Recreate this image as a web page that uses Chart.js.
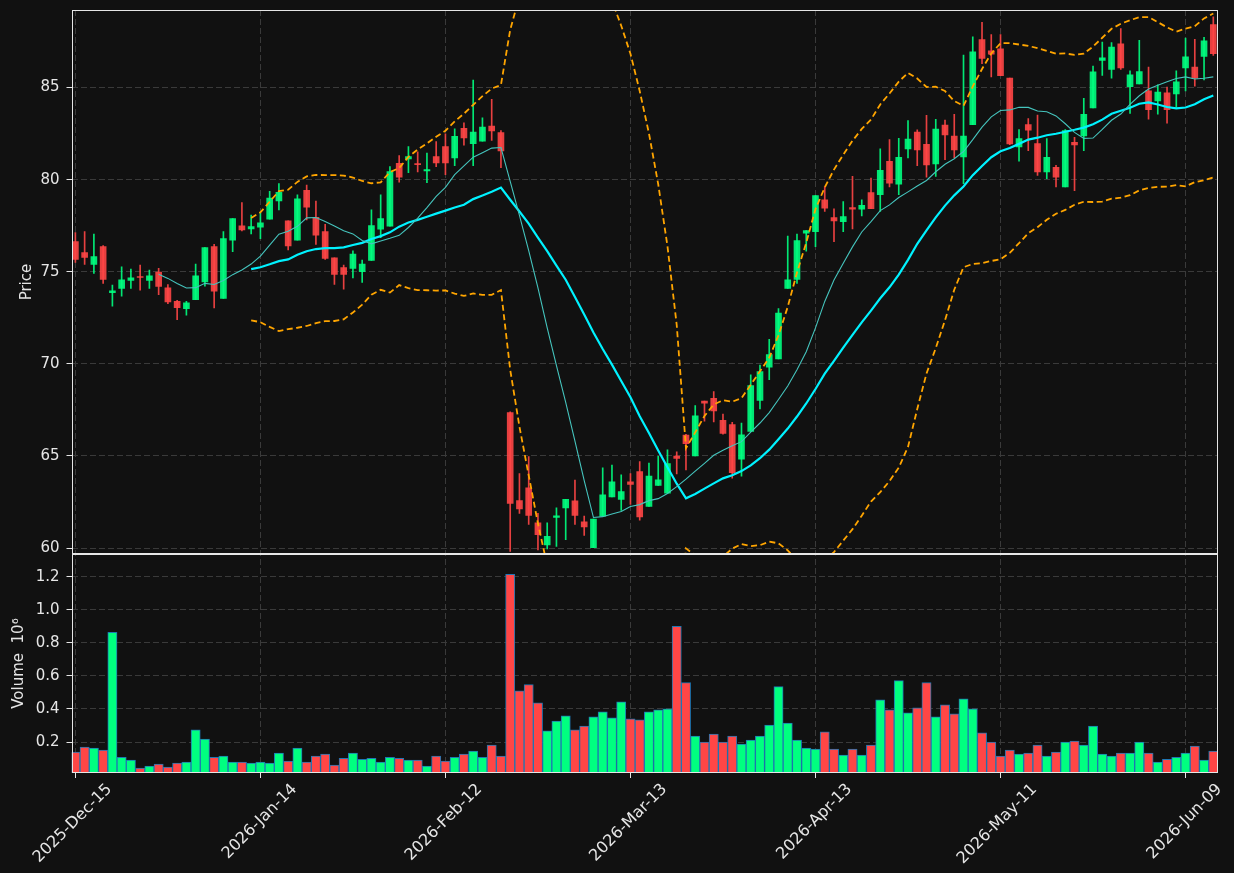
<!DOCTYPE html>
<html>
<head>
<meta charset="utf-8">
<script src="https://cdn.jsdelivr.net/npm/chart.js@4.4.1/dist/chart.umd.min.js"></script>
<style>
  html, body { margin: 0; padding: 0; background: #111111; }
  #wrap { position: relative; width: 1234px; height: 873px; }
</style>
</head>
<body>
<div id="wrap"><canvas id="candles" width="1234" height="873"></canvas></div>
<script>
// Daily OHLC, one entry per trading day (2025-12-15 .. 2026-06-12)
const opens = [
  76.64, 76.04, 75.40, 76.36, 73.87, 74.09, 74.53, 74.74, 74.53, 74.98,
  74.13, 73.40, 73.00, 73.49, 74.45, 76.36, 73.55, 76.71, 77.49, 77.33,
  77.42, 77.85, 78.84, 77.76, 76.71, 79.42, 77.96, 77.18, 75.76, 75.22,
  75.18, 75.00, 75.62, 77.31, 77.47, 80.89, 81.13, 80.84, 80.47, 81.25,
  81.80, 81.18, 82.78, 81.95, 82.09, 82.91, 82.56, 67.36, 62.58, 63.27,
  61.37, 60.17, 61.66, 62.18, 62.57, 61.42, 60.02, 61.73, 62.77, 62.64,
  63.60, 64.15, 62.26, 63.40, 62.98, 65.00, 66.13, 65.00, 67.98, 68.13,
  66.93, 66.71, 64.82, 66.33, 68.02, 69.82, 70.27, 74.09, 74.58, 77.09,
  77.18, 78.90, 77.94, 77.72, 78.49, 78.40, 79.30, 79.18, 80.99, 79.76,
  81.67, 82.58, 81.92, 80.85, 82.96, 82.36, 81.23, 82.98, 87.60, 86.99,
  87.10, 85.52, 81.78, 82.99, 81.96, 80.42, 80.67, 79.60, 82.02, 82.37,
  83.90, 86.47, 85.98, 87.38, 85.05, 85.20, 84.82, 84.27, 84.71, 84.66,
  86.07, 86.11, 86.69, 88.42
];
const highs = [
  77.13, 77.18, 77.05, 76.42, 74.27, 75.27, 75.15, 75.36, 75.09, 75.18,
  74.31, 73.45, 73.40, 75.42, 76.31, 76.49, 77.18, 77.89, 78.76, 78.07,
  78.20, 79.36, 79.78, 77.76, 79.18, 79.71, 78.84, 77.58, 75.76, 75.36,
  76.13, 75.64, 78.36, 79.18, 80.71, 81.31, 81.80, 81.51, 81.44, 82.07,
  82.49, 82.76, 83.09, 85.40, 83.35, 84.36, 82.67, 67.40, 64.04, 64.97,
  61.88, 61.37, 62.18, 62.64, 63.69, 61.73, 61.58, 64.35, 64.51, 63.97,
  64.04, 64.69, 64.62, 64.98, 65.33, 65.22, 66.18, 67.73, 67.98, 68.49,
  67.27, 66.82, 66.78, 69.40, 69.94, 71.33, 73.00, 76.94, 77.05, 77.23,
  79.14, 79.63, 78.41, 78.81, 80.18, 78.90, 80.09, 81.68, 82.18, 82.25,
  83.21, 82.70, 83.49, 83.27, 83.23, 83.54, 86.76, 87.76, 88.54, 87.87,
  87.87, 85.52, 82.72, 83.32, 83.50, 82.23, 80.78, 82.72, 82.30, 84.41,
  86.17, 87.47, 87.44, 88.20, 85.91, 87.56, 86.11, 85.15, 85.02, 85.91,
  87.69, 87.62, 87.73, 88.84
];
const lows = [
  75.51, 75.40, 74.91, 74.36, 73.13, 73.67, 74.09, 74.00, 74.09, 73.75,
  73.27, 72.40, 72.64, 73.49, 74.22, 73.04, 73.55, 76.09, 77.22, 77.05,
  76.80, 77.85, 78.36, 76.18, 76.71, 77.82, 76.49, 75.67, 74.31, 74.05,
  74.67, 74.42, 75.62, 76.85, 77.47, 79.87, 80.38, 80.42, 79.84, 80.71,
  80.27, 80.76, 81.87, 80.76, 82.09, 82.13, 80.65, 59.82, 61.88, 61.28,
  59.90, 59.95, 60.09, 60.46, 61.28, 60.68, 60.02, 61.73, 62.77, 62.04,
  62.37, 61.51, 62.26, 63.40, 62.98, 64.02, 64.24, 65.00, 66.89, 66.85,
  66.18, 63.80, 63.90, 66.33, 67.55, 69.14, 70.27, 74.09, 74.36, 76.12,
  76.36, 78.27, 76.63, 77.18, 77.32, 78.03, 78.43, 78.27, 79.60, 79.18,
  81.18, 80.76, 80.14, 80.18, 81.09, 81.18, 79.78, 82.98, 86.30, 85.58,
  85.65, 81.90, 81.00, 81.58, 80.23, 80.05, 79.60, 79.60, 79.40, 81.58,
  83.90, 85.66, 85.51, 85.98, 83.60, 85.20, 83.29, 83.55, 83.06, 83.93,
  84.82, 85.07, 85.42, 86.75
];
const closes = [
  75.67, 75.78, 75.82, 74.58, 73.96, 74.56, 74.67, 74.69, 74.78, 74.20,
  73.36, 73.05, 73.31, 74.78, 76.31, 73.95, 76.80, 77.89, 77.27, 77.45,
  77.65, 79.00, 79.31, 76.40, 78.96, 78.51, 76.98, 75.73, 74.85, 74.85,
  75.96, 75.42, 77.51, 77.89, 80.44, 80.13, 81.25, 80.82, 80.55, 80.91,
  80.91, 82.35, 82.27, 82.58, 82.85, 82.65, 81.56, 62.42, 62.13, 61.77,
  60.73, 60.64, 61.75, 62.64, 61.77, 61.15, 61.58, 62.89, 63.60, 63.06,
  63.46, 61.69, 63.91, 63.71, 64.58, 64.87, 65.67, 67.18, 67.87, 67.44,
  66.22, 64.09, 66.15, 68.82, 69.58, 70.51, 72.76, 74.56, 76.69, 77.23,
  79.14, 78.45, 77.76, 77.99, 78.40, 78.60, 78.43, 80.50, 79.81, 81.21,
  82.20, 81.61, 80.80, 82.74, 82.43, 81.61, 82.36, 86.94, 86.58, 86.81,
  85.65, 81.94, 82.23, 82.69, 80.42, 81.21, 80.14, 82.67, 81.89, 83.55,
  85.85, 86.62, 87.20, 86.07, 85.69, 85.87, 83.80, 84.75, 83.80, 85.31,
  86.67, 85.51, 87.54, 86.84
];
// Volume in millions
const volumes = [
  0.139, 0.169, 0.163, 0.151, 0.863, 0.108, 0.090, 0.042, 0.054, 0.066,
  0.048, 0.072, 0.078, 0.273, 0.218, 0.108, 0.115, 0.078, 0.078, 0.072,
  0.078, 0.072, 0.133, 0.084, 0.163, 0.078, 0.115, 0.127, 0.060, 0.102,
  0.133, 0.096, 0.102, 0.078, 0.108, 0.102, 0.090, 0.090, 0.054, 0.115,
  0.084, 0.108, 0.127, 0.145, 0.108, 0.182, 0.115, 1.215, 0.510, 0.547,
  0.437, 0.267, 0.327, 0.358, 0.273, 0.297, 0.352, 0.382, 0.346, 0.443,
  0.340, 0.334, 0.382, 0.395, 0.401, 0.900, 0.559, 0.236, 0.200, 0.248,
  0.200, 0.236, 0.188, 0.212, 0.236, 0.303, 0.535, 0.315, 0.212, 0.163,
  0.157, 0.261, 0.157, 0.121, 0.157, 0.121, 0.182, 0.455, 0.395, 0.571,
  0.376, 0.407, 0.559, 0.352, 0.425, 0.370, 0.461, 0.401, 0.255, 0.200,
  0.115, 0.151, 0.127, 0.133, 0.182, 0.115, 0.139, 0.200, 0.206, 0.182,
  0.297, 0.127, 0.115, 0.133, 0.133, 0.200, 0.133, 0.078, 0.096, 0.108,
  0.133, 0.176, 0.090, 0.145
];
// one date label every 20 sessions
const tickLabels = ['2025-Dec-15', '2026-Jan-14', '2026-Feb-12', '2026-Mar-13',
                    '2026-Apr-13', '2026-May-11', '2026-Jun-09'];
const priceTicks = [60, 65, 70, 75, 80, 85];
const volumeTicks = [0.2, 0.4, 0.6, 0.8, 1.0, 1.2];

const TICK_STEP = 20;
const FONT = 'DejaVu Sans';
const FG = '#e6e6e6';
const GRID = '#3a3a3a';
const UP = '#00ff80';
const DOWN = '#ff4646';

// rolling mean / bollinger bands on closes
function sma(values, period) {
  return values.map((_, i) => {
    if (i < period - 1) return null;
    let s = 0;
    for (let k = i - period + 1; k <= i; k++) s += values[k];
    return s / period;
  });
}
function band(values, period, mult) {
  const mid = sma(values, period);
  return values.map((_, i) => {
    if (mid[i] === null) return null;
    let v = 0;
    for (let k = i - period + 1; k <= i; k++) v += (values[k] - mid[i]) ** 2;
    return mid[i] + mult * Math.sqrt(v / period);
  });
}
const toPoints = arr => arr.map((y, i) => ({ x: i, y })).filter(p => p.y !== null);

const up = closes.map((c, i) => c >= opens[i]);
const candleCol = up.map(u => u ? 'rgba(0,255,128,0.9)' : 'rgba(255,70,70,0.9)');
const volCol = up.map(u => u ? UP : DOWN);

// keep each dataset inside its own panel
const panelClip = {
  id: 'panelClip',
  beforeDatasetDraw(chart, args) {
    const ys = chart.scales[args.meta.yAxisID];
    const a = chart.chartArea;
    chart.ctx.save();
    chart.ctx.beginPath();
    chart.ctx.rect(a.left, ys.top, a.right - a.left, ys.bottom - ys.top);
    chart.ctx.clip();
  },
  afterDatasetDraw(chart) {
    chart.ctx.restore();
  }
};

const panelFrames = {
  id: 'panelFrames',
  afterDraw(chart) {
    const { ctx, chartArea: a } = chart;
    ctx.save();
    ctx.strokeStyle = FG;
    ctx.lineWidth = 1;
    ['y', 'volume'].forEach(id => {
      const s = chart.scales[id];
      ctx.strokeRect(Math.round(a.left) + 0.5, Math.round(s.top) + 0.5,
                     Math.round(a.right - a.left) - 1, Math.round(s.bottom - s.top) - 1);
    });
    ctx.restore();
  }
};

const gridOpts = { color: GRID, tickColor: FG, tickLength: 5, tickWidth: 1, tickBorderDash: [], offset: false };
const noPad = s => { s.paddingTop = 0; s.paddingBottom = 0; };

new Chart(document.getElementById('candles'), {
  type: 'bar',
  data: {
    datasets: [
      {
        type: 'line', label: 'MA10', data: toPoints(sma(closes, 10)),
        borderColor: '#45c4bd', borderWidth: 1.1, pointRadius: 0, yAxisID: 'y', order: 0
      },
      {
        type: 'line', label: 'MA20', data: toPoints(sma(closes, 20)),
        borderColor: '#00f2ff', borderWidth: 2.2, pointRadius: 0, yAxisID: 'y', order: 0
      },
      {
        type: 'line', label: 'Upper', data: toPoints(band(closes, 20, 2)),
        borderColor: '#ffa500', borderWidth: 1.8, borderDash: [6, 3.5], pointRadius: 0, yAxisID: 'y', order: 0
      },
      {
        type: 'line', label: 'Lower', data: toPoints(band(closes, 20, -2)),
        borderColor: '#ffa500', borderWidth: 1.8, borderDash: [6, 3.5], pointRadius: 0, yAxisID: 'y', order: 0
      },
      {
        label: 'Body', data: closes.map((c, i) => ({ x: i, y: [opens[i], c] })),
        backgroundColor: candleCol, barThickness: 6, minBarLength: 1, grouped: false,
        yAxisID: 'y', order: 1
      },
      {
        label: 'Wick', data: closes.map((_, i) => ({ x: i, y: [lows[i], highs[i]] })),
        backgroundColor: candleCol, barThickness: 1, grouped: false,
        yAxisID: 'y', order: 2
      },
      {
        label: 'Volume', data: volumes.map((v, i) => ({ x: i, y: v })),
        backgroundColor: volCol, borderColor: '#1f77b4', borderWidth: 1,
        barThickness: 9.25, grouped: false, yAxisID: 'volume', order: 3
      }
    ]
  },
  options: {
    responsive: false,
    animation: false,
    devicePixelRatio: 1,
    layout: { padding: { left: 0, right: 17, top: 10, bottom: 0 } },
    plugins: { legend: { display: false }, tooltip: { enabled: false } },
    scales: {
      x: {
        type: 'linear', min: -0.42, max: 123.4, offset: false,
        afterBuildTicks: s => { s.ticks = tickLabels.map((_, k) => ({ value: k * TICK_STEP })); },
        afterFit: s => { s.height = 100; s.paddingLeft = 0; s.paddingRight = 0; },
        ticks: {
          callback: v => tickLabels[Math.round(v / TICK_STEP)],
          color: FG, font: { family: FONT, size: 16 },
          minRotation: 45, maxRotation: 45, labelOffset: 34, padding: 2, autoSkip: false
        },
        grid: gridOpts,
        border: { display: false, dash: [6, 3] }
      },
      volume: {
        position: 'left', stack: 'panels', stackWeight: 218,
        min: 0.3 * Math.min(...volumes), max: 1.1 * Math.max(...volumes),
        afterBuildTicks: s => { s.ticks = volumeTicks.map(v => ({ value: v })); },
        afterFit: s => { s.width = 71.5; noPad(s); },
        ticks: { color: FG, font: { family: FONT, size: 15 }, padding: 7, callback: v => v.toFixed(1) },
        title: { display: true, text: 'Volume  10\u2076', color: FG, font: { family: FONT, size: 15 }, padding: { top: 10, bottom: 0 } },
        grid: gridOpts,
        border: { display: false, dash: [6, 3] }
      },
      y: {
        position: 'left', stack: 'panels', stackWeight: 542,
        min: 59.67, max: 89.21,
        afterBuildTicks: s => { s.ticks = priceTicks.map(v => ({ value: v })); },
        afterFit: s => { s.width = 71.5; noPad(s); },
        ticks: { color: FG, font: { family: FONT, size: 15 }, padding: 7 },
        title: { display: true, text: 'Price', color: FG, font: { family: FONT, size: 15 }, padding: { top: 18, bottom: 0 } },
        grid: gridOpts,
        border: { display: false, dash: [6, 3] }
      }
    }
  },
  plugins: [panelClip, panelFrames]
});
</script>
</body>
</html>
